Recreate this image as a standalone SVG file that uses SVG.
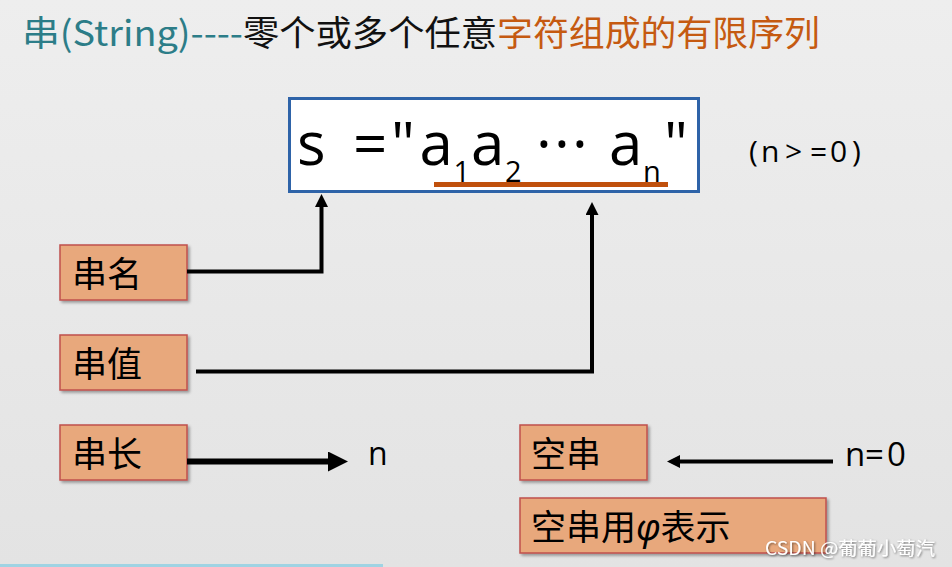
<svg xmlns="http://www.w3.org/2000/svg" width="952" height="567" viewBox="0 0 952 567">
<defs>
<linearGradient id="bg" x1="0" y1="0" x2="0" y2="1">
<stop offset="0" stop-color="#eeeeee"/>
<stop offset="1" stop-color="#e3e3e3"/>
</linearGradient>
<marker id="ahS" viewBox="0 0 13 13" markerWidth="13" markerHeight="13" refX="1" refY="6.5" orient="auto" markerUnits="userSpaceOnUse">
<path d="M0,0 L13,6.5 L0,13 z" fill="#000"/>
</marker>
<marker id="ahL" viewBox="0 0 20 20" markerWidth="20" markerHeight="20" refX="1" refY="10" orient="auto" markerUnits="userSpaceOnUse">
<path d="M0,0 L20,10 L0,20 z" fill="#000"/>
</marker>
<filter id="sh" x="-10%" y="-10%" width="130%" height="140%">
<feGaussianBlur in="SourceAlpha" stdDeviation="1.5"/>
<feOffset dx="1.5" dy="2" result="o"/>
<feComponentTransfer><feFuncA type="linear" slope="0.35"/></feComponentTransfer>
<feMerge><feMergeNode/><feMergeNode in="SourceGraphic"/></feMerge>
</filter>
<filter id="wm" x="-5%" y="-20%" width="110%" height="150%">
<feGaussianBlur in="SourceAlpha" stdDeviation="0.8"/>
<feOffset dx="0.5" dy="0.5"/>
<feComponentTransfer><feFuncA type="linear" slope="0.5"/></feComponentTransfer>
<feMerge><feMergeNode/><feMergeNode in="SourceGraphic"/></feMerge>
</filter>
</defs>
<style>
.box{fill:#e8a87c;stroke:#c0504d;stroke-width:1.5;filter:url(#sh)}
.bt{font-family:"Noto Sans CJK SC","Noto Sans",sans-serif;font-size:35px;fill:#000}
.f{font-family:"Open Sans","Noto Sans",sans-serif;fill:#000}
.ln{fill:none;stroke:#000}
.sub{font-size:29px}
</style>
<rect width="952" height="567" fill="url(#bg)"/>
<rect x="0" y="564" width="383" height="3" fill="#9fd3e3"/>

<g id="title" font-family="Noto Sans CJK SC, Noto Sans, sans-serif" font-size="35">
<text x="22" y="46" fill="#2c7d88" textLength="221" lengthAdjust="spacingAndGlyphs">串(String)----</text>
<text x="243" y="46" fill="#111" textLength="254" lengthAdjust="spacingAndGlyphs">零个或多个任意</text>
<text x="497" y="46" fill="#c55a11" textLength="323" lengthAdjust="spacingAndGlyphs">字符组成的有限序列</text>
</g>

<g id="formula">
<rect x="289.5" y="98.5" width="409" height="93" fill="#fff" stroke="#2e63a8" stroke-width="3"/>
<text class="f" font-size="60"><tspan x="297" y="165">s</tspan><tspan x="353" y="165">=</tspan><tspan x="391" y="165">"</tspan><tspan x="419.5" y="165">a</tspan><tspan class="sub" x="453.5" y="182">1</tspan><tspan x="471" y="165">a</tspan><tspan class="sub" x="505" y="182">2</tspan><tspan x="536 554 572" y="165">···</tspan><tspan x="609" y="165">a</tspan><tspan class="sub" x="643" y="182">n</tspan><tspan x="664" y="165">"</tspan></text>
<rect x="434" y="182" width="234" height="5" fill="#c0500c"/>
</g>

<g id="cond">
<text class="f" font-size="30" y="162" x="749 761 785 810 830 852">(n&gt;=0)</text>
</g>

<g id="node-name">
<rect class="box" x="60" y="245" width="127" height="55"/>
<text class="bt" x="72" y="287">串名</text>
</g>
<g id="node-value">
<rect class="box" x="60" y="335" width="127" height="55"/>
<text class="bt" x="72" y="377">串值</text>
</g>
<g id="node-length">
<rect class="box" x="60" y="425" width="127" height="55"/>
<text class="bt" x="72" y="467">串长</text>
</g>
<g id="node-empty">
<rect class="box" x="520" y="425" width="127" height="55"/>
<text class="bt" x="531" y="467">空串</text>
</g>
<g id="node-empty-phi">
<rect class="box" x="520" y="498" width="306" height="55"/>
<text class="bt" x="531" y="540">空串用<tspan font-family="Noto Sans, sans-serif" font-style="italic" font-size="36">φ</tspan>表示</text>
</g>

<g id="label-n">
<text class="f" font-size="32" x="368" y="465">n</text>
</g>
<g id="label-n0">
<text class="f" font-size="33" y="466" x="845 865 887">n=0</text>
</g>

<g id="connectors">
<path class="ln" stroke-width="4" d="M187,271.5 H321.5 V206" marker-end="url(#ahS)"/>
<path class="ln" stroke-width="4" d="M196,371.5 H592 V214" marker-end="url(#ahS)"/>
<path class="ln" stroke-width="6" d="M187,461.5 H329" marker-end="url(#ahL)"/>
<path class="ln" stroke-width="4" d="M833,461.5 H679" marker-end="url(#ahS)"/>
</g>

<text x="765" y="555" font-family="Noto Sans CJK SC, Noto Sans, sans-serif" font-size="18" fill="#ffffff" textLength="170" lengthAdjust="spacingAndGlyphs" filter="url(#wm)">CSDN @葡葡小萄汽</text>
</svg>
